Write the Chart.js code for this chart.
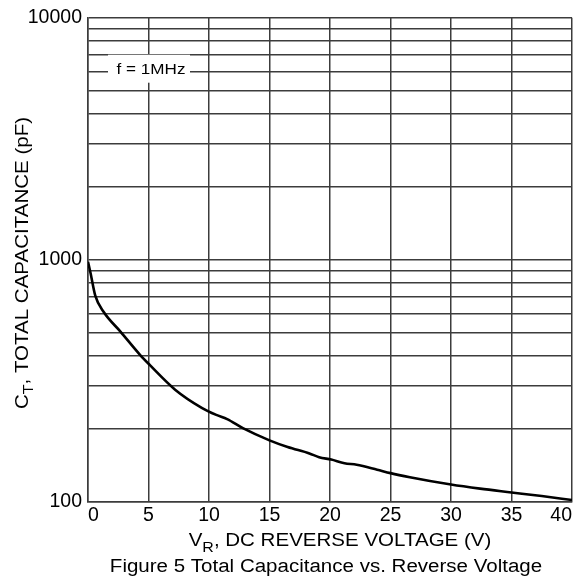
<!DOCTYPE html>
<html>
<head>
<meta charset="utf-8">
<script src="https://cdn.jsdelivr.net/npm/chart.js@4/dist/chart.umd.min.js"></script>
<style>
  html, body { margin: 0; padding: 0; background: #fff; }
  #wrap { width: 581px; height: 577px; }
</style>
</head>
<body>
<div id="wrap"><canvas id="capChart" width="581" height="577"></canvas></div>
<script>
// V_R (V) vs C_T (pF)
const reverseVoltage = [0, 0.2, 0.6, 1.3, 2.7, 4.3, 5.1, 7.2, 9.4, 10.6, 11.5, 12.8, 15, 16.5, 18.3, 19.1, 20.1, 21.2, 22.2, 23.9, 25, 26.6, 30, 32.4, 35, 37.5, 40];
const capacitance = [980, 885, 710, 607, 503, 404, 367, 290, 244, 228, 219, 201, 179, 168, 158, 152.5, 149, 144, 142, 135.4, 131, 126, 117.5, 113, 109, 105.3, 101.4];

const xTickValues = [0, 5, 10, 15, 20, 25, 30, 35, 40];
const yTickValues = [100, 200, 300, 400, 500, 600, 700, 800, 900,
                     1000, 2000, 3000, 4000, 5000, 6000, 7000, 8000, 9000, 10000];
const yLabelValues = [100, 1000, 10000];

const noteText = "f = 1MHz";
const caption = "Figure 5 Total Capacitance vs. Reverse Voltage";

const FONT = "'Liberation Sans', Arial, Helvetica, sans-serif";
const GRID = "#3c3c3c";
const STRETCH = 1.14; // the original lettering is a bit wide

// draws text runs, some of them as subscripts, centred on cx
function drawRich(ctx, parts, cx, baseY, size, subSize, subDrop) {
    let total = 0;
    parts.forEach((p) => {
        ctx.font = `${p.sub ? subSize : size}px ${FONT}`;
        p.w = ctx.measureText(p.text).width;
        total += p.w;
    });
    ctx.save();
    ctx.translate(cx, baseY);
    ctx.scale(STRETCH, 1);
    let x = -total / 2;
    parts.forEach((p) => {
        ctx.font = `${p.sub ? subSize : size}px ${FONT}`;
        ctx.fillText(p.text, x, p.sub ? subDrop : 0);
        x += p.w;
    });
    ctx.restore();
}

const labelsPlugin = {
    id: "labels",
    beforeDatasetsDraw(chart) {
        const ctx = chart.ctx;
        const area = chart.chartArea;
        ctx.save();
        // note box sits over the grid
        ctx.fillStyle = "#fff";
        ctx.fillRect(area.left + 20, area.top + 37, 82, 28);
        ctx.fillStyle = "#000";
        ctx.textAlign = "left";
        ctx.textBaseline = "alphabetic";
        drawRich(ctx, [{ text: noteText }], area.left + 63, area.top + 56, 15, 15, 0);
        ctx.restore();
    },
    afterDraw(chart) {
        const ctx = chart.ctx;
        ctx.save();
        ctx.fillStyle = "#000";
        ctx.textAlign = "left";
        ctx.textBaseline = "alphabetic";

        drawRich(ctx, [
            { text: "V" }, { text: "R", sub: true }, { text: ", DC REVERSE VOLTAGE (V)" }
        ], 340, 546, 18, 14, 6);

        ctx.save();
        ctx.translate(28, 263);
        ctx.rotate(-Math.PI / 2);
        drawRich(ctx, [
            { text: "C" }, { text: "T", sub: true }, { text: ", TOTAL CAPACITANCE (pF)" }
        ], 0, 0, 18, 14, 5);
        ctx.restore();

        drawRich(ctx, [{ text: caption }], 326, 572, 18, 18, 0);
        ctx.restore();
    }
};

const points = reverseVoltage.map((v, i) => ({ x: v, y: capacitance[i] }));

new Chart(document.getElementById("capChart"), {
    type: "line",
    data: {
        datasets: [{
            data: points,
            borderColor: "#000",
            borderWidth: 2.6,
            pointRadius: 0,
            tension: 0.3,
            cubicInterpolationMode: "monotone",
            fill: false
        }]
    },
    options: {
        responsive: false,
        animation: false,
        layout: { padding: { top: 12, right: 9, left: 0, bottom: 0 } },
        plugins: {
            legend: { display: false },
            tooltip: { enabled: false }
        },
        scales: {
            x: {
                type: "linear",
                min: 0,
                max: 40,
                afterBuildTicks: (scale) => {
                    scale.ticks = xTickValues.map((v) => ({ value: v }));
                },
                afterFit: (scale) => { scale.height = 75.5; },
                grid: { color: GRID, lineWidth: 1.5, drawTicks: false },
                border: { color: GRID, width: 1.5 },
                ticks: {
                    align: "inner",
                    padding: 2,
                    color: "#000",
                    maxRotation: 0,
                    font: { family: FONT, size: 19.5 }
                }
            },
            y: {
                type: "logarithmic",
                min: 100,
                max: 10000,
                afterBuildTicks: (scale) => {
                    scale.ticks = yTickValues.map((v) => ({ value: v }));
                },
                afterFit: (scale) => { scale.width = 88; },
                grid: { color: GRID, lineWidth: 1.5, drawTicks: false },
                border: { color: GRID, width: 1.5 },
                ticks: {
                    padding: 6,
                    color: "#000",
                    autoSkip: false,
                    font: { family: FONT, size: 19.5 },
                    callback: (value) => yLabelValues.includes(value) ? String(value) : ""
                }
            }
        }
    },
    plugins: [labelsPlugin]
});
</script>
</body>
</html>
